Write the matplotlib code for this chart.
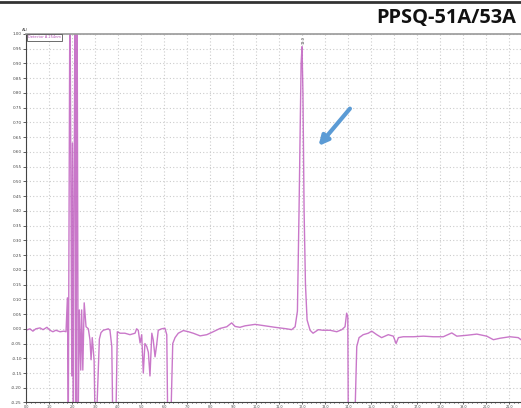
import matplotlib
matplotlib.use("Agg")
import matplotlib.pyplot as plt
from matplotlib.ticker import MultipleLocator, FormatStrFormatter

# chromatogram trace (time in min, absorbance in AU)
time_min = [0.00, 0.17, 0.30, 0.43, 0.61, 0.74, 0.91, 1.04, 1.17, 1.30, 1.48, 1.65,
            1.74, 1.80, 1.84, 1.91, 1.99, 2.02, 2.06, 2.13, 2.18, 2.22, 2.27, 2.32,
            2.38, 2.42, 2.47, 2.53, 2.61, 2.71, 2.78, 2.83, 2.88, 2.96, 3.00, 3.07,
            3.19, 3.26, 3.36, 3.58, 3.65, 3.73, 3.77, 3.91, 3.97, 4.09, 4.30, 4.52,
            4.74, 4.81, 4.88, 4.96, 5.03, 5.10, 5.17, 5.25, 5.32, 5.39, 5.47, 5.53,
            5.61, 5.68, 5.75, 5.90, 6.04, 6.12, 6.16, 6.30, 6.38, 6.48, 6.62, 6.84,
            7.06, 7.27, 7.57, 7.86, 8.14, 8.43, 8.73, 8.94, 9.09, 9.30, 9.52, 9.96,
            10.39, 10.83, 11.04, 11.33, 11.55, 11.70, 11.80, 11.87, 11.96, 12.00,
            12.04, 12.09, 12.15, 12.22, 12.35, 12.48, 12.71, 12.91, 13.22, 13.51,
            13.73, 13.87, 13.94, 13.99, 14.01, 14.30, 14.38, 14.48, 14.66, 14.88,
            15.03, 15.25, 15.46, 15.75, 15.97, 16.09, 16.19, 16.40, 16.84, 17.28,
            17.71, 18.14, 18.51, 18.73, 19.16, 19.60, 20.03, 20.32, 20.61, 21.04,
            21.40, 21.52]
absorb = [-0.005, 0.000, -0.008, 0.000, 0.003, -0.003, 0.005, -0.005, -0.010, -0.005, -0.010, -0.008,
          -0.010, 0.105, -0.30, 1.20, -0.16, 0.63, -0.30, 1.20, -0.30, 1.20, -0.30, 0.064,
          -0.14, 0.064, -0.14, 0.088, 0.007, 0.000, -0.037, -0.105, -0.030, -0.105, -0.30, -0.30,
          -0.035, -0.013, -0.005, 0.000, -0.005, -0.060, -0.30, -0.30, -0.010, -0.015, -0.015, -0.020,
          -0.015, 0.000, -0.005, -0.048, -0.020, -0.150, -0.050, -0.060, -0.080, -0.160, -0.015, -0.037,
          -0.095, -0.055, -0.005, 0.000, 0.002, -0.020, -0.30, -0.30, -0.050, -0.030, -0.015, -0.006,
          -0.010, -0.015, -0.024, -0.020, -0.010, 0.001, 0.007, 0.020, 0.008, 0.005, 0.010, 0.015,
          0.010, 0.005, 0.003, 0.000, -0.003, 0.007, 0.060, 0.400, 0.900, 0.957,
          0.800, 0.400, 0.150, 0.030, -0.005, -0.015, -0.003, -0.005, -0.005, -0.010,
          -0.003, 0.007, 0.053, 0.040, -0.30, -0.30, -0.060, -0.030, -0.020, -0.015,
          -0.008, -0.020, -0.030, -0.020, -0.025, -0.050, -0.030, -0.027, -0.027, -0.025,
          -0.027, -0.027, -0.014, -0.025, -0.022, -0.018, -0.025, -0.037, -0.032, -0.027,
          -0.030, -0.037]

x_ticks = list(range(0, 22))
x_labels = ["%.1f" % t for t in x_ticks]

fig = plt.figure(figsize=(5.21, 4.08), dpi=100)
ax = fig.add_axes([0.0499, 0.0135, 0.9501, 0.9032])

ax.plot(time_min, absorb, color="#c060c0", lw=1.0, alpha=0.85)

ax.set_xlim(0, 21.52)
ax.set_ylim(-0.25, 1.00)
ax.yaxis.set_major_locator(MultipleLocator(0.05))
ax.yaxis.set_major_formatter(FormatStrFormatter("%.2f"))
ax.set_xticks(x_ticks)
ax.set_xticklabels(x_labels)
ax.xaxis.set_minor_locator(MultipleLocator(0.2))
ax.tick_params(axis="both", labelsize=3, length=2, width=0.6, pad=1, colors="#444444")
ax.tick_params(axis="x", labelsize=2.4, pad=0.2, length=1.5)
ax.tick_params(axis="x", which="minor", length=1.0, width=0.5)
ax.grid(True, color="#cccccc", linestyle=(0, (1, 2)), lw=0.8)

ax.spines["right"].set_visible(False)
ax.spines["top"].set_color("#999999")
ax.spines["top"].set_linewidth(1.2)
ax.spines["left"].set_color("#444444")
ax.spines["bottom"].set_color("#444444")

# legend box and unit
ax.text(0.08, 0.995, "Detector A 254nm", fontsize=2.5, color="#b44cb4", va="top", ha="left",
        bbox=dict(boxstyle="square,pad=0.3", fc="white", ec="#555555", lw=0.6))
fig.text(0.042, 0.925, "AU", fontsize=3, color="#444444")

# peak label
ax.text(12.05, 0.965, "12.0", fontsize=2.5, rotation=90, color="#333333", ha="center", va="bottom")

# blue arrow pointing to the peak
ax.annotate("", xy=(12.64, 0.613), xytext=(14.16, 0.754),
            arrowprops=dict(arrowstyle="-|>", color="#5b9bd5", lw=3, mutation_scale=14))

# header
fig.add_artist(plt.Line2D([0, 1], [0.995, 0.995], color="#333333", lw=2))
fig.text(0.99, 0.955, "PPSQ-51A/53A", fontsize=14.4, fontweight="bold", family="Open Sans",
         ha="right", va="center", color="#111111")

fig.savefig("out.png", dpi=100)
